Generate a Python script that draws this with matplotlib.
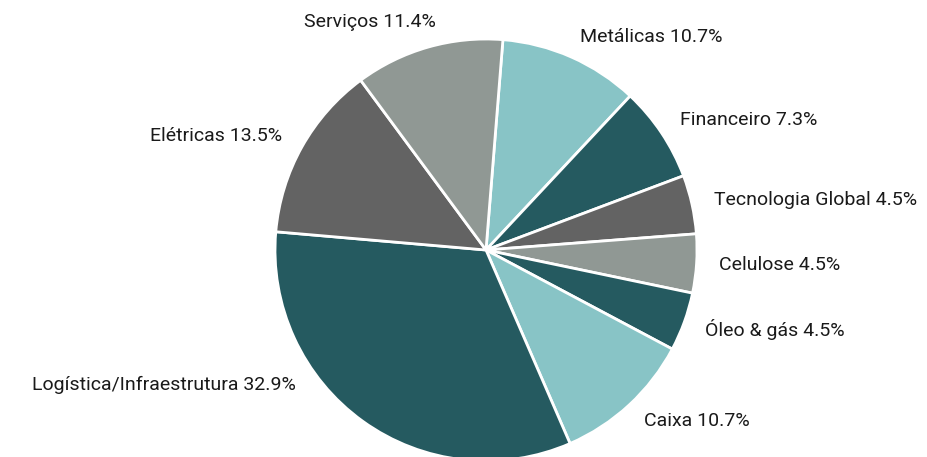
import numpy as np
import matplotlib
matplotlib.use("Agg")
import matplotlib.pyplot as plt

# Slices in clockwise order starting near 12 o'clock
categories = ["Metálicas", "Financeiro", "Tecnologia Global", "Celulose",
              "Óleo & gás", "Caixa", "Logística/Infraestrutura", "Elétricas", "Serviços"]
values = [10.7, 7.3, 4.5, 4.5, 4.5, 10.7, 32.9, 13.5, 11.4]

DT, LT, DG, LG = "#255a60", "#88c4c6", "#636363", "#909894"
colors = [LT, DT, DG, LG, DT, LT, DT, DG, LG]

W, H = 928, 457
fig = plt.figure(figsize=(W / 100, H / 100), dpi=100)
ax = fig.add_axes([0, 0, 1, 1])

cx, cy, R = 486, H - 250, 211
start = 85.4
wedges, _ = ax.pie(values, colors=colors, startangle=start, counterclock=False,
                   radius=R, center=(cx, cy), frame=True,
                   wedgeprops=dict(edgecolor="white", linewidth=2))
ax.set_xlim(0, W)
ax.set_ylim(0, H)
ax.set_aspect("equal")
ax.axis("off")

label_dist = 1.105
for w, cat, v in zip(wedges, categories, values):
    ang = (w.theta1 + w.theta2) / 2
    if cat.startswith("Logística"):
        ang = -144.5
    elif cat == "Serviços":
        ang = 102.5
    a = np.deg2rad(ang)
    x = cx + label_dist * R * np.cos(a)
    y = cy + label_dist * R * np.sin(a)
    ha = "left" if np.cos(a) > 0 else "right"
    ax.text(x, y, f"{cat} {v}%", ha=ha, va="center", fontsize=14,
            color="#1a1a1a", family=["Roboto", "DejaVu Sans"])

fig.savefig("out.png", dpi=100, facecolor="white")
